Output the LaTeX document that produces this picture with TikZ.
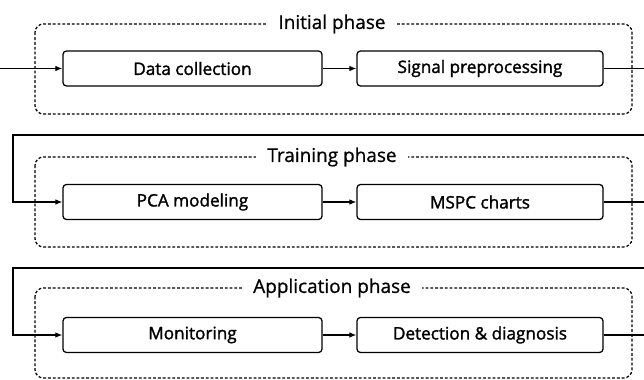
\documentclass[tikz,border=0pt]{standalone}
\usepackage{fontspec}
\setmainfont{Open Sans}
\newfontfamily\stagefont{Open Sans}[FakeBold=1.6]
\newfontfamily\phasefont{Open Sans}[FakeBold=0.8]
\usetikzlibrary{arrows.meta}
\tikzset{stage/.style = {draw, rounded corners=2.5pt, line width=0.9pt, minimum height=0.875cm, font=\stagefont\fontsize{12.2}{14}\selectfont}}
\tikzset{phase/.style = {dash pattern=on 2pt off 1.4pt, line width=0.9pt, rounded corners=6pt}}
\tikzset{title/.style = {fill=white, inner xsep=8pt, inner ysep=3pt, font=\phasefont\fontsize{13.5}{15}\selectfont}}
\tikzset{flow/.style = {line width=0.8pt, -{Latex[length=5pt,width=4pt]}}}

\begin{document}
\begin{tikzpicture}[x=0.025cm, y=-0.025cm]
  \useasboundingbox (0, 0) rectangle (644, 380);
  % phase frames
  \draw[phase] (35, 24) rectangle (632, 114);
  \draw[phase] (35, 157) rectangle (632, 247);
  \draw[phase] (35, 288) rectangle (632, 378);
  \node[title] (t1) at (332, 24) {Initial phase};
  \node[title] (t2) at (332, 157) {Training phase};
  \node[title] (t3) at (332, 288) {Application phase};
  % stages
  \node[stage, minimum width=6.475cm] (dc) at (192.5, 68.5) {Data collection};
  \node[stage, minimum width=6.15cm] (sp) at (480, 68.5) {Signal preprocessing};
  \node[stage, minimum width=6.475cm] (pca) at (192.5, 202) {PCA modeling};
  \node[stage, minimum width=6.15cm] (mspc) at (480, 202) {MSPC charts};
  \node[stage, minimum width=6.475cm] (mon) at (192.5, 335) {Monitoring};
  \node[stage, minimum width=6.15cm] (dd) at (480, 335) {Detection \& diagnosis};
  % connectors
  \coordinate (in) at (0, 68.5);
  \coordinate (ret1) at (652, 135);
  \coordinate (back1) at (13, 135);
  \coordinate (ret2) at (652, 268);
  \coordinate (back2) at (13, 268);
  \coordinate (out) at (652, 335);
  \draw[flow] (in) -- (dc);
  \draw[flow] (dc) -- (sp);
  \draw[flow] (sp.east) -| (ret1) -- (back1) |- (pca.west);
  \draw[flow] (pca) -- (mspc);
  \draw[flow] (mspc.east) -| (ret2) -- (back2) |- (mon.west);
  \draw[flow] (mon) -- (dd);
  \draw[line width=0.8pt] (dd.east) -- (out);
\end{tikzpicture}
\end{document}
